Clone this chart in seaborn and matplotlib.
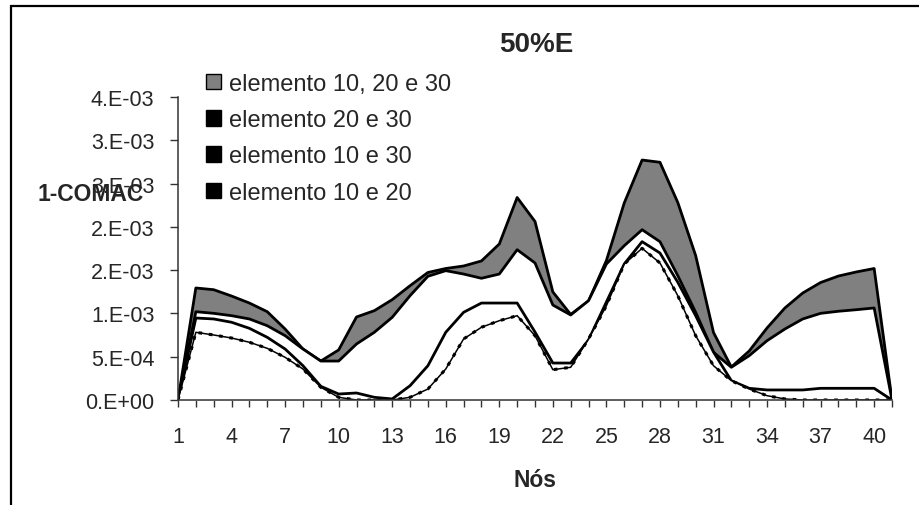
import numpy as np
import pandas as pd
import matplotlib
matplotlib.use("Agg")
import matplotlib.pyplot as plt
from matplotlib.patches import Patch, Rectangle
import seaborn as sns

# ---------------- data (values in units of 1e-3) ----------------
nodes = list(range(1, 42))

el_10_20_30 = [0.000, 1.294, 1.274, 1.201, 1.120, 1.020, 0.820, 0.589, 0.450, 0.578,
               0.959, 1.032, 1.159, 1.320, 1.473, 1.519, 1.548, 1.606, 1.802, 2.339,
               2.062, 1.248, 0.988, 1.144, 1.611, 2.276, 2.772, 2.746, 2.281, 1.669,
               0.780, 0.381, 0.566, 0.832, 1.063, 1.236, 1.357, 1.432, 1.479, 1.519,
               0.000]
el_20_30 = [0.000, 1.020, 1.001, 0.974, 0.936, 0.858, 0.743, 0.589, 0.450, 0.450,
            0.647, 0.782, 0.955, 1.205, 1.429, 1.494, 1.455, 1.406, 1.455, 1.736,
            1.583, 1.097, 0.982, 1.147, 1.571, 1.782, 1.967, 1.829, 1.436, 1.013,
            0.551, 0.378, 0.512, 0.685, 0.820, 0.936, 1.001, 1.025, 1.043, 1.063,
            0.000]
el_10_30 = [0.000, 0.947, 0.936, 0.898, 0.828, 0.724, 0.589, 0.396, 0.158, 0.069,
            0.081, 0.031, 0.012, 0.165, 0.396, 0.782, 1.013, 1.120, 1.120, 1.120,
            0.785, 0.427, 0.427, 0.693, 1.132, 1.571, 1.829, 1.698, 1.360, 0.974,
            0.554, 0.223, 0.135, 0.116, 0.116, 0.116, 0.135, 0.135, 0.135, 0.135,
            0.000]
el_10_20 = [0.000, 0.782, 0.751, 0.716, 0.667, 0.597, 0.493, 0.358, 0.147, 0.031,
            0.000, 0.000, 0.000, 0.031, 0.127, 0.358, 0.705, 0.840, 0.916, 0.974,
            0.743, 0.350, 0.378, 0.705, 1.089, 1.571, 1.752, 1.583, 1.205, 0.743,
            0.396, 0.223, 0.127, 0.050, 0.012, 0.000, 0.000, 0.000, 0.000, 0.000,
            0.000]

series_names = ["elemento 10, 20 e 30", "elemento 20 e 30",
                "elemento 10 e 30", "elemento 10 e 20"]
series_values = [el_10_20_30, el_20_30, el_10_30, el_10_20]

ytick_values = [0.0, 0.0005, 0.0010, 0.0015, 0.0020, 0.0025, 0.0030, 0.0035]
ytick_labels = ["0.E+00", "5.E-04", "1.E-03", "2.E-03", "2.E-03", "3.E-03", "3.E-03", "4.E-03"]
xtick_labels = [str(n) if (n - 1) % 3 == 0 else "" for n in nodes]

title = "50%E"
xlabel = "Nós"
ylabel = "1-COMAC"

# ---------------- build table ----------------
rows = []
for name, vals in zip(series_names, series_values):
    for n, v in zip(nodes, vals):
        rows.append({"node": n, "value": v * 1e-3, "series": name})
df = pd.DataFrame(rows)

# ---------------- style ----------------
sns.set_theme(style="white")
plt.rcParams["font.family"] = ["Liberation Sans", "DejaVu Sans"]

W, H = 919, 506
fig = plt.figure(figsize=(W / 100, H / 100), dpi=100)
ax = fig.add_axes([178 / W, 1 - 401 / H, (892 - 178) / W, (401 - 98) / H])

fills = ["#808080", "white", "white", "white"]
for i, name in enumerate(series_names):
    d = df[df["series"] == name]
    ax.fill_between(d["node"], 0, d["value"], color=fills[i], lw=0, zorder=2 + i)
    if i < 3:
        sns.lineplot(data=d, x="node", y="value", ax=ax, color="black", lw=2.0,
                     zorder=2.5 + i, legend=False)
    else:
        sns.lineplot(data=d, x="node", y="value", ax=ax, color="black", lw=1.1,
                     zorder=2.5 + i, legend=False)
        sns.lineplot(data=d, x="node", y="value", ax=ax, color="black", lw=2.2,
                     dashes=False, zorder=2.6 + i, legend=False,
                     linestyle=(0, (1.2, 2.2)))

ax.set_xlim(1, 41)
ax.set_ylim(0, 0.0035)
ax.set_xticks(nodes)
ax.set_xticklabels(xtick_labels)
ax.set_yticks(ytick_values)
ax.set_yticklabels(ytick_labels)

for s in ["top", "right"]:
    ax.spines[s].set_visible(False)
for s in ["left", "bottom"]:
    ax.spines[s].set_color("#333333")
    ax.spines[s].set_linewidth(1.1)
    ax.spines[s].set_zorder(10)

ax.tick_params(axis="x", direction="out", length=5, width=1.0, color="#333333",
               labelsize=15.5, pad=14, bottom=True)
ax.tick_params(axis="y", direction="out", length=6, width=1.0, color="#333333",
               labelsize=15.5, pad=11, left=True)
ax.grid(False)

ax.set_xlabel(xlabel, fontsize=16.5, fontweight="bold")
ax.xaxis.set_label_coords(0.5, -0.262)
ax.xaxis.label.set_va("center")
ax.set_ylabel(ylabel, fontsize=16.5, fontweight="bold", rotation=0)
ax.yaxis.set_label_coords((91 - 178) / 714, (401 - 195) / 303)
ax.yaxis.label.set_va("center")
ax.yaxis.label.set_ha("center")
ax.yaxis.label.set_zorder(20)

ax.text((536 - 178) / 714, (401 - 45) / 303, title, transform=ax.transAxes,
        ha="center", va="center", fontsize=20, fontweight="bold")

handles = [Patch(facecolor="#808080", edgecolor="black", lw=1.0)] + \
          [Patch(facecolor="black", edgecolor="black", lw=1.0) for _ in range(3)]
leg = ax.legend(handles, series_names, loc="upper left",
                bbox_to_anchor=(206 / W, 1 - 74 / H), bbox_transform=fig.transFigure,
                frameon=False, fontsize=17, borderpad=0, borderaxespad=0,
                handlelength=0.62, handleheight=0.62, handletextpad=0.35,
                labelspacing=0.60)
leg.set_zorder(30)

# outer chart-area border (top and left edges visible)
fig.add_artist(Rectangle((11 / W, -0.2), 2.0, (1 - 7 / H) + 0.2,
                         transform=fig.transFigure, fill=False, lw=1.6,
                         ec="black", clip_on=False))

fig.savefig("out.png", dpi=100)
